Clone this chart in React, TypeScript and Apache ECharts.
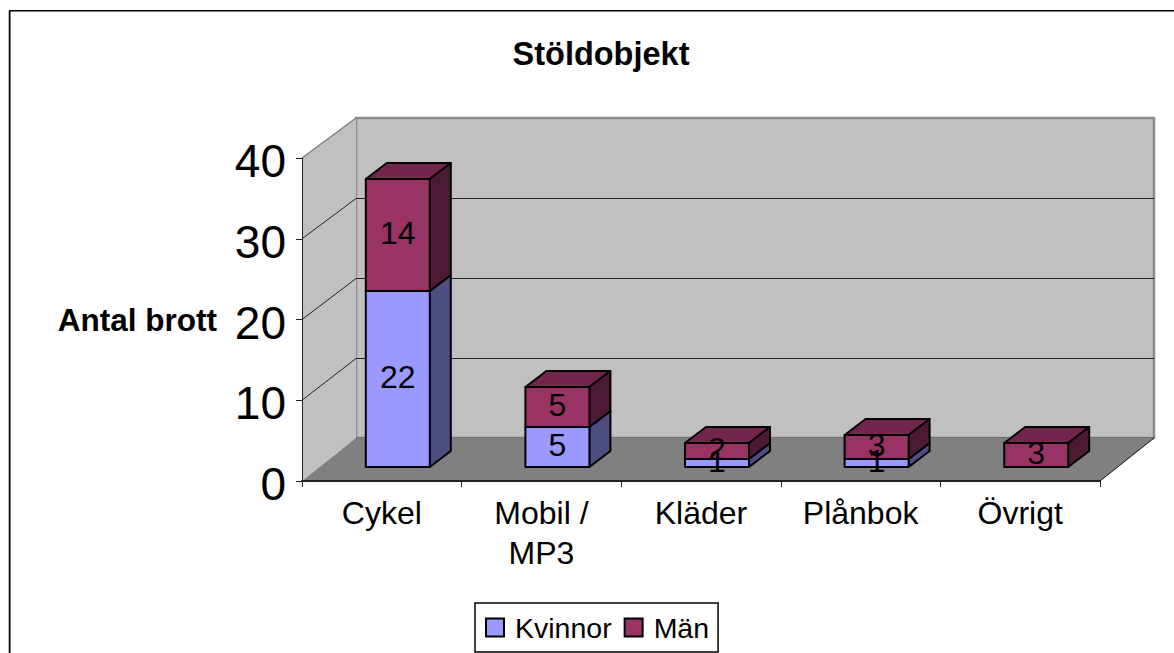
import React, { useEffect, useRef } from "react";
import * as echarts from "echarts";

const categories = ["Cykel", "Mobil /\nMP3", "Kläder", "Plånbok", "Övrigt"];
const kvinnor = [22, 5, 1, 1, 0];
const man = [14, 5, 2, 3, 3];
const yTicks = [0, 10, 20, 30, 40];
const FONT = '"Liberation Sans", Arial, sans-serif';

const DX = 54, DY = 43;
const BAR_SHIFT_X = 16, BAR_SHIFT_Y = 14, BAR_HALF = 32, BAR_DX = 21, BAR_DY = 16;

const palette = {
  kvinnor: { front: "#9999FF", side: "#4D4D80", top: "#737399" },
  man: { front: "#993366", side: "#4D1A33", top: "#73264D" },
};

function barRender(colors: { front: string; side: string; top: string }) {
  return (_p: any, api: any) => {
    const idx = api.value(0), base = api.value(1), val = api.value(2);
    if (!val) return null;
    const a = api.coord([idx, base]);
    const b = api.coord([idx, base + val]);
    const cx = a[0] + BAR_SHIFT_X;
    const l = cx - BAR_HALF, r = cx + BAR_HALF;
    const y0 = a[1] - BAR_SHIFT_Y, y1 = b[1] - BAR_SHIFT_Y;
    const common = { stroke: "#000", lineWidth: 2, lineJoin: "round" };
    return {
      type: "group",
      children: [
        { type: "polygon", shape: { points: [[l, y1], [r, y1], [r + BAR_DX, y1 - BAR_DY], [l + BAR_DX, y1 - BAR_DY]] }, style: { fill: colors.top, ...common } },
        { type: "polygon", shape: { points: [[r, y0], [r + BAR_DX, y0 - BAR_DY], [r + BAR_DX, y1 - BAR_DY], [r, y1]] }, style: { fill: colors.side, ...common } },
        { type: "polygon", shape: { points: [[l, y0], [r, y0], [r, y1], [l, y1]] }, style: { fill: colors.front, ...common } },
      ],
    };
  };
}

function labelRender(_p: any, api: any) {
  const idx = api.value(0), base = api.value(1), val = api.value(2);
  if (!val) return null;
  const a = api.coord([idx, base + val / 2]);
  return {
    type: "text",
    style: {
      x: a[0] + BAR_SHIFT_X,
      y: a[1] - BAR_SHIFT_Y - 2,
      text: String(val),
      fill: "#000",
      font: `32px ${FONT}`,
      align: "center",
      verticalAlign: "middle",
    },
  };
}

function wallRender(params: any, api: any) {
  const cs = params.coordSys;
  const x0 = cs.x, x1 = cs.x + cs.width;
  const frontY = (v: number) => cs.y + cs.height * (1 - v / 40);
  const backY = (v: number) => api.coord([0, v])[1] - DY;
  const bottomF = frontY(0), topF = frontY(40);
  const bottomB = backY(0), topB = backY(40);
  const children: any[] = [
    { type: "polygon", shape: { points: [[x0 + DX, topB], [x1 + DX, topB], [x1 + DX, bottomB], [x0 + DX, bottomB]] }, style: { fill: "#C0C0C0", stroke: "#8C8C8C", lineWidth: 2.5 } },
    { type: "polygon", shape: { points: [[x0, topF], [x0 + DX, topB], [x0 + DX, bottomB], [x0, bottomF]] }, style: { fill: "#C0C0C0" } },
    { type: "polyline", shape: { points: [[x0, topF], [x0 + DX, topB]] }, style: { stroke: "#808080", lineWidth: 1.5, fill: "none" } },
    { type: "polygon", shape: { points: [[x0, bottomF], [x1, bottomF], [x1 + DX, bottomB], [x0 + DX, bottomB]] }, style: { fill: "#808080" } },
    { type: "line", shape: { x1: x0 + DX, y1: bottomB - 0.5, x2: x1 + DX, y2: bottomB - 0.5 }, style: { stroke: "#707070", lineWidth: 1 } },
    { type: "line", shape: { x1: x1, y1: bottomF, x2: x1 + DX, y2: bottomB }, style: { stroke: "#111", lineWidth: 1 } },
  ];
  yTicks.filter((v) => v > 0 && v < 40).forEach((v) => {
    children.push({ type: "polyline", shape: { points: [[x0, frontY(v)], [x0 + DX, backY(v) + 0.5], [x1 + DX, backY(v) + 0.5]] }, style: { stroke: "#222", lineWidth: 1, fill: "none" } });
  });
  return { type: "group", children };
}

export default function App() {
  const ref = useRef<HTMLDivElement>(null);
  useEffect(() => {
    const chart = echarts.init(ref.current!, undefined, { renderer: "svg" });
    const kData = kvinnor.map((v, i) => [i, 0, v]);
    const mData = man.map((v, i) => [i, kvinnor[i], v]);
    const enc = { x: 0, y: 2 };
    chart.setOption({
      animation: false,
      backgroundColor: "#fff",
      textStyle: { fontFamily: FONT },
      title: {
        text: "Stöldobjekt",
        left: 601,
        top: 37,
        padding: 0,
        textAlign: "center",
        textStyle: { fontFamily: FONT, fontSize: 32.5, fontWeight: "bold", color: "#000" },
      },
      legend: {
        left: 475,
        top: 603,
        data: [
          { name: "Kvinnor", itemStyle: { color: palette.kvinnor.front, borderColor: "#000", borderWidth: 2 } },
          { name: "Män", itemStyle: { color: palette.man.front, borderColor: "#000", borderWidth: 2 } },
        ],
        icon: "rect",
        itemWidth: 18,
        itemHeight: 18,
        itemGap: 12,
        padding: [10, 9, 10, 10],
        borderColor: "#000",
        borderWidth: 1.5,
        backgroundColor: "#fff",
        selectedMode: false,
        textStyle: { fontFamily: FONT, fontSize: 28.5, color: "#000", padding: [0, 0, 0, 6] },
      },
      grid: { left: 302, width: 798, top: 158, height: 323, outerBoundsMode: "none" },
      xAxis: {
        type: "category",
        data: categories,
        z: 1,
        axisLine: { lineStyle: { color: "#222", width: 2 } },
        axisTick: { show: true, length: 6, alignWithLabel: false, lineStyle: { color: "#222", width: 1 } },
        axisLabel: { fontFamily: FONT, fontSize: 32, color: "#000", margin: 12, lineHeight: 40, interval: 0 },
      },
      yAxis: [
        {
          type: "value",
          min: 0,
          max: 40,
          interval: 10,
          z: 1,
          name: "Antal brott",
          nameLocation: "middle",
          nameRotate: 0,
          nameGap: 85,
          nameTextStyle: { fontFamily: FONT, fontSize: 31.5, fontWeight: "bold", color: "#000" },
          axisLine: { show: true, lineStyle: { color: "#222", width: 1 } },
          axisTick: { show: true, length: 6, lineStyle: { color: "#222", width: 1 } },
          axisLabel: {
            fontFamily: FONT,
            fontSize: 46,
            color: "#000",
            margin: 16,
            formatter: "{n|{value}}",
            rich: { n: { fontFamily: FONT, fontSize: 46, color: "#000", padding: [6, 0, 0, 0] } },
          },
          splitLine: { show: false },
        },
        { type: "value", min: 0, max: 40.375, show: false, splitLine: { show: false } },
      ],
      series: [
        { type: "custom", name: "Väggar", yAxisIndex: 1, z: 0, silent: true, data: [[0, 0, 0]], encode: enc, renderItem: wallRender },
        { type: "custom", name: "Kvinnor", yAxisIndex: 1, z: 2, itemStyle: { color: palette.kvinnor.front }, data: kData, encode: enc, renderItem: barRender(palette.kvinnor) },
        { type: "custom", name: "Män", yAxisIndex: 1, z: 3, itemStyle: { color: palette.man.front }, data: mData, encode: enc, renderItem: barRender(palette.man) },
        { type: "custom", name: "Kvinnor etiketter", yAxisIndex: 1, z: 4, silent: true, data: kData, encode: enc, renderItem: labelRender },
        { type: "custom", name: "Män etiketter", yAxisIndex: 1, z: 4, silent: true, data: mData, encode: enc, renderItem: labelRender },
      ],
      graphic: [
        { type: "polyline", z: 10, silent: true, shape: { points: [[8.5, 653], [8.5, 11]] }, style: { stroke: "#BBBBBB", lineWidth: 1, fill: "none" } },
        { type: "polyline", z: 11, silent: true, shape: { points: [[9.75, 653], [9.75, 10.75], [1174, 10.75]] }, style: { stroke: "#000", lineWidth: 1.5, fill: "none" } },
      ],
    });
    return () => chart.dispose();
  }, []);
  return <div ref={ref} style={{ position: "fixed", left: 0, top: 0, width: 1174, height: 653 }} />;
}
